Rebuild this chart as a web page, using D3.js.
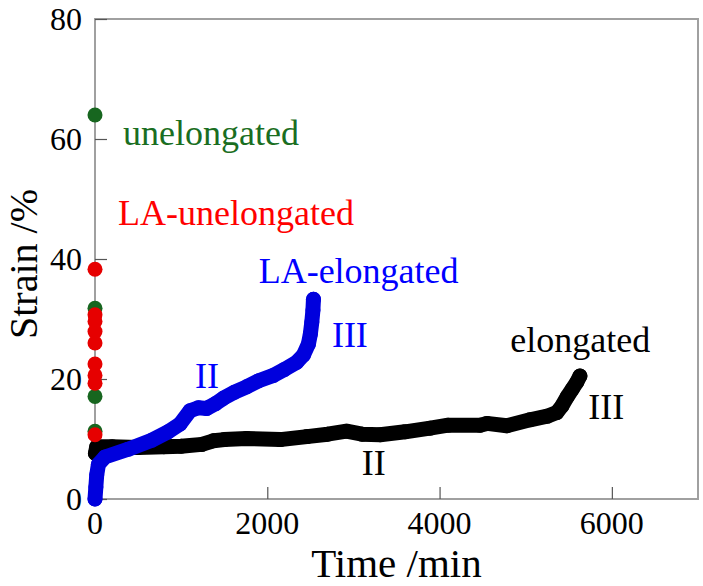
<!DOCTYPE html>
<html>
<head>
<meta charset="utf-8">
<script src="https://cdn.jsdelivr.net/npm/d3@7"></script>
<style>
  body { margin: 0; background: #fff; }
  text { font-family: "Liberation Serif", "Times New Roman", serif; }
</style>
</head>
<body>
<div id="chart"></div>
<script>
// values: [time (min), strain (%)]
const elongated = [
    [5, 7.6], [20, 8.7], [200, 8.7], [500, 8.6], [800, 8.7], [1000, 8.8],
    [1240, 9.1], [1374, 9.7], [1500, 9.9], [1760, 10.1], [2150, 9.9],
    [2460, 10.4], [2700, 10.8], [2920, 11.3], [3100, 10.8], [3310, 10.7],
    [3600, 11.2], [3890, 11.8], [4100, 12.3], [4470, 12.3], [4550, 12.6],
    [4780, 12.2], [5050, 13.2], [5250, 13.8], [5360, 14.4], [5420, 15.5],
    [5480, 17.0], [5540, 18.3], [5594, 19.5], [5629, 20.5]
];
const laElongated = [
    [0, 0], [10, 2], [20, 4], [40, 5.8], [116, 7.0], [387, 8.3], [658, 9.8],
    [850, 11.2], [987, 12.5], [1103, 14.7], [1200, 15.2], [1297, 15.1],
    [1400, 15.9], [1491, 16.8], [1620, 17.8], [1761, 18.7], [1900, 19.7],
    [2071, 20.6], [2200, 21.6], [2342, 22.8], [2420, 24.0], [2477, 25.8],
    [2500, 27.5], [2517, 29.5], [2530, 31.5], [2536, 33.3]
];
const unelongated = [[0, 64.0], [0, 31.8], [0, 17.1], [0, 11.3]];
const laUnelongated = [
    [0, 38.3], [0, 30.7], [0, 29.6], [0, 27.9], [0, 26.0],
    [0, 22.5], [0, 20.6], [0, 19.3], [0, 10.7]
];

const xTicks = [0, 2000, 4000, 6000];
const yTicks = [0, 20, 40, 60, 80];

// text labels placed at (time, strain)
const labels = [
    {text: "unelongated", x: 325, y: 59, color: "#1a6e22"},
    {text: "LA-unelongated", x: 267, y: 45.6, color: "#ff0000"},
    {text: "LA-elongated", x: 1900, y: 36, color: "#0000ff"},
    {text: "III", x: 2750, y: 25.4, color: "#0000ff"},
    {text: "II", x: 1160, y: 18.5, color: "#0000ff"},
    {text: "elongated", x: 4820, y: 24.5, color: "#000000"},
    {text: "III", x: 5726, y: 13.4, color: "#000000"},
    {text: "II", x: 3097, y: 4, color: "#000000"}
];

const W = 703, H = 586;
const margin = { top: 19, right: 5, bottom: 87, left: 95 };
const width = W - margin.left - margin.right;
const height = H - margin.top - margin.bottom;

const svg = d3.select("#chart")
    .append("svg")
    .attr("width", W)
    .attr("height", H)
  .append("g")
    .attr("transform", `translate(${margin.left},${margin.top})`);

const x = d3.scaleLinear().domain([0, 7000]).range([0, width]);
const y = d3.scaleLinear().domain([0, 80]).range([height, 0]);

// frame
svg.append("rect")
    .attr("x", 0).attr("y", 0)
    .attr("width", width).attr("height", height)
    .attr("fill", "none")
    .attr("stroke", "#a0a0a0")
    .attr("stroke-width", 2);

// axes with inward ticks
const xAxis = svg.append("g")
    .attr("transform", `translate(0,${height})`)
    .call(d3.axisTop(x).tickValues(xTicks).tickSize(12).tickFormat(""));
const yAxis = svg.append("g")
    .call(d3.axisRight(y).tickValues(yTicks).tickSize(12).tickFormat(""));
[xAxis, yAxis].forEach(g => {
    g.select(".domain").remove();
    g.selectAll("line").attr("stroke", "#555").attr("stroke-width", 1.2);
});

svg.selectAll(".xlab")
    .data(xTicks)
    .enter().append("text")
    .attr("x", d => x(d))
    .attr("y", height + 35)
    .attr("text-anchor", "middle")
    .style("font-size", "32px")
    .text(d => d);

svg.selectAll(".ylab")
    .data(yTicks)
    .enter().append("text")
    .attr("x", -13)
    .attr("y", d => y(d) + 11)
    .attr("text-anchor", "end")
    .style("font-size", "32px")
    .text(d => d);

// series: thick line through the read points, plus a dot on each
const drawSeries = (data, color) => {
    svg.append("path")
        .datum(data)
        .attr("d", d3.line().x(d => x(d[0])).y(d => y(d[1])))
        .attr("fill", "none")
        .attr("stroke", color)
        .attr("stroke-width", 15)
        .attr("stroke-linejoin", "round")
        .attr("stroke-linecap", "round");
    drawDots(data, color);
};
const drawDots = (data, color) => {
    svg.append("g")
        .selectAll("circle")
        .data(data)
        .enter().append("circle")
        .attr("cx", d => x(d[0]))
        .attr("cy", d => y(d[1]))
        .attr("r", 7.5)
        .attr("fill", color);
};

drawSeries(elongated, "#000000");
drawSeries(laElongated, "#0000dd");
drawDots(unelongated, "#17661f");
drawDots(laUnelongated, "#e60000");

svg.selectAll(".note")
    .data(labels)
    .enter().append("text")
    .attr("x", d => x(d.x))
    .attr("y", d => y(d.y))
    .style("font-size", "36px")
    .style("fill", d => d.color)
    .text(d => d.text);

// axis titles
svg.append("text")
    .attr("x", width / 2)
    .attr("y", height + 78)
    .attr("text-anchor", "middle")
    .style("font-size", "41px")
    .text("Time /min");

svg.append("text")
    .attr("transform", `translate(-58,${264 - margin.top}) rotate(-90)`)
    .attr("text-anchor", "middle")
    .style("font-size", "40px")
    .text("Strain /%");
</script>
</body>
</html>
